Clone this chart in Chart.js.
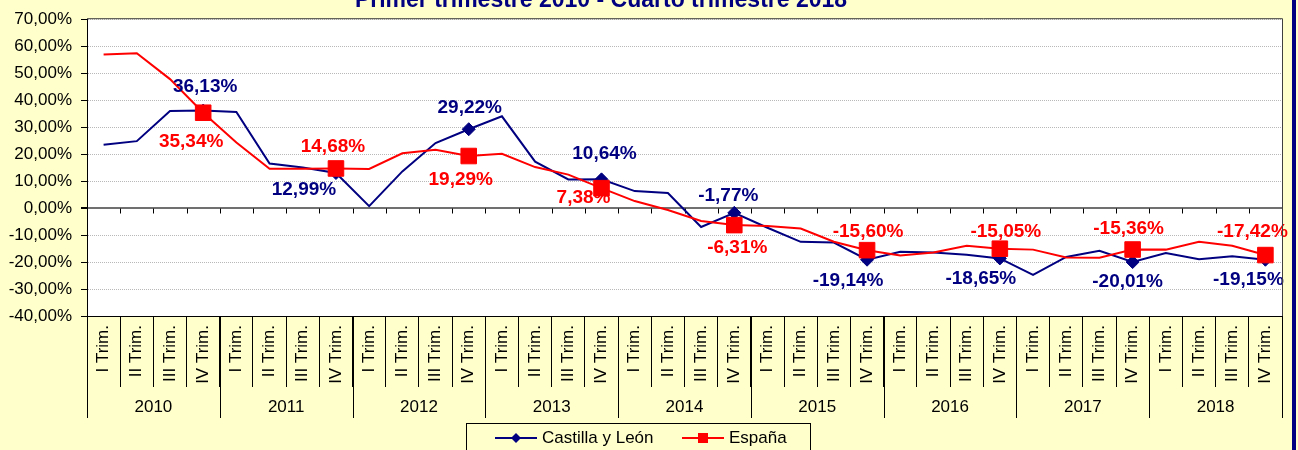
<!DOCTYPE html>
<html>
<head>
<meta charset="utf-8">
<title>Castilla y León - España</title>
<script src="https://cdn.jsdelivr.net/npm/chart.js@4/dist/chart.umd.min.js"></script>
<style>
  html, body { margin: 0; padding: 0; background: #ffffcc; }
  #wrap { width: 1298px; height: 450px; }
</style>
</head>
<body>
<div id="wrap"><canvas id="grafico" width="1298" height="450"></canvas></div>
<script>
// Datos (variación interanual, %)
const anios = ['2010', '2011', '2012', '2013', '2014', '2015', '2016', '2017', '2018'];
const trimestres = ['I Trim.', 'II Trim.', 'III Trim.', 'IV Trim.'];
const castillaLeon = [23.5, 24.8, 36.0, 36.13, 35.6, 16.5, 15.0, 12.99, 0.7, 13.6, 24.1, 29.22,
                      34.0, 17.2, 10.6, 10.64, 6.3, 5.6, -7.0, -1.77, -7.3, -12.5, -12.8, -19.14,
                      -16.2, -16.5, -17.3, -18.65, -24.8, -18.1, -15.8, -20.01, -16.7, -19.0, -17.9, -19.15];
const espana = [56.9, 57.4, 47.8, 35.34, 24.3, 14.6, 14.6, 14.68, 14.5, 20.3, 21.6, 19.29,
                20.1, 15.2, 12.4, 7.38, 2.6, -0.7, -4.8, -6.31, -6.6, -7.6, -12.5, -15.60,
                -17.6, -16.5, -14.0, -15.05, -15.4, -18.3, -18.4, -15.36, -15.4, -12.5, -14.0, -17.42];
const ticksY = [-40, -30, -20, -10, 0, 10, 20, 30, 40, 50, 60, 70];

const titulo = 'Primer trimestre 2010 - Cuarto trimestre 2018';
const categorias = [];
anios.forEach(a => trimestres.forEach(t => categorias.push(t)));

const AZUL = '#000080';
const ROJO = '#ff0000';
const FUENTE = 'Arial, "Liberation Sans", sans-serif';

// formato 12,34%
function pct(v) {
    return v.toFixed(2).replace('.', ',') + '%';
}

// desplazamiento de cada etiqueta respecto a su punto (solo IV Trim.)
const posEtiquetas = [
    [[2, -24], [-32, 17], [1, -21], [3, -26], [-6, -17], [-19, 21], [-19, 20], [-5, 20], [-17, 20]],
    [[-12, 29], [-3, -22], [-8, 24], [-18, 10], [3, 23], [1, -18], [6, -17], [-4, -21], [-13, -23]]
];

const marcoPlugin = {
    id: 'marco',
    beforeDraw(chart) {
        const { ctx, chartArea: a } = chart;
        ctx.save();
        ctx.fillStyle = '#ffffcc';
        ctx.fillRect(0, 0, chart.width, chart.height);
        ctx.fillStyle = '#ffffff';
        ctx.fillRect(a.left, a.top, a.right - a.left, a.bottom - a.top);
        ctx.restore();
    },
    beforeDatasetsDraw(chart) {
        // marcas del eje de categorías sobre la línea del 0
        const { ctx } = chart;
        const x = chart.scales.x, y = chart.scales.y;
        const y0 = Math.round(y.getPixelForValue(0)) + 0.5;
        ctx.save();
        ctx.strokeStyle = '#000';
        ctx.lineWidth = 1;
        ctx.beginPath();
        for (let i = 1; i < categorias.length; i++) {
            const bx = Math.round((x.getPixelForValue(i - 1) + x.getPixelForValue(i)) / 2) + 0.5;
            ctx.moveTo(bx, y0);
            ctx.lineTo(bx, y0 + 5);
        }
        ctx.stroke();
        ctx.restore();
    },
    afterDatasetsDraw(chart) {
        const { ctx } = chart;
        ctx.save();
        ctx.font = 'bold 19px ' + FUENTE;
        ctx.textAlign = 'center';
        ctx.textBaseline = 'middle';
        chart.data.datasets.forEach((ds, d) => {
            const meta = chart.getDatasetMeta(d);
            let k = 0;
            ds.data.forEach((v, i) => {
                if (i % 4 !== 3) return;
                const p = meta.data[i];
                const off = posEtiquetas[d][k++];
                ctx.fillStyle = ds.borderColor;
                ctx.fillText(pct(v), p.x + off[0], p.y + off[1]);
            });
        });
        ctx.restore();
    },
    afterDraw(chart) {
        const { ctx, chartArea: a } = chart;
        const x = chart.scales.x;
        ctx.save();

        // borde superior y derecho del área de trazado
        ctx.strokeStyle = '#404040';
        ctx.lineWidth = 1;
        ctx.beginPath();
        ctx.moveTo(a.left, a.top - 0.5);
        ctx.lineTo(a.right + 0.5, a.top - 0.5);
        ctx.lineTo(a.right + 0.5, a.bottom);
        ctx.stroke();

        // separadores y rótulos de años
        const ancho = (x.getPixelForValue(1) - x.getPixelForValue(0));
        ctx.strokeStyle = '#000';
        ctx.beginPath();
        for (let k = 0; k <= anios.length; k++) {
            const bx = Math.round(x.getPixelForValue(k * 4) - ancho / 2) + 0.5;
            ctx.moveTo(bx, a.bottom);
            ctx.lineTo(bx, a.bottom + 102);
        }
        ctx.stroke();
        ctx.fillStyle = '#000';
        ctx.font = '17px ' + FUENTE;
        ctx.textAlign = 'center';
        ctx.textBaseline = 'middle';
        anios.forEach((an, k) => {
            const cx = (x.getPixelForValue(k * 4) + x.getPixelForValue(k * 4 + 3)) / 2;
            ctx.fillText(an, cx, a.bottom + 91);
        });

        // título (recortado por arriba)
        ctx.fillStyle = AZUL;
        ctx.font = 'bold 23px ' + FUENTE;
        ctx.textBaseline = 'alphabetic';
        ctx.fillText(titulo, 601, 7);

        // leyenda
        const lx = 466, ly = 423, lw = 344, lh = 34;
        ctx.strokeStyle = '#000';
        ctx.lineWidth = 1;
        ctx.strokeRect(lx + 0.5, ly + 0.5, lw, lh);
        const cy = ly + 15;
        const items = [[495, 'rectRot'], [682, 'rect']];
        chart.data.datasets.forEach((ds, d) => {
            const sx = items[d][0];
            ctx.strokeStyle = ds.borderColor;
            ctx.fillStyle = ds.borderColor;
            ctx.lineWidth = 2;
            ctx.beginPath();
            ctx.moveTo(sx, cy);
            ctx.lineTo(sx + 42, cy);
            ctx.stroke();
            ctx.beginPath();
            const mx = sx + 21;
            if (items[d][1] === 'rect') {
                ctx.rect(mx - 5, cy - 5, 10, 10);
            } else {
                ctx.moveTo(mx, cy - 5);
                ctx.lineTo(mx + 5, cy);
                ctx.lineTo(mx, cy + 5);
                ctx.lineTo(mx - 5, cy);
                ctx.closePath();
            }
            ctx.fill();
            ctx.fillStyle = '#000';
            ctx.font = '17px ' + FUENTE;
            ctx.textAlign = 'left';
            ctx.textBaseline = 'middle';
            ctx.fillText(ds.label, sx + 47, cy);
        });

        // franja azul del borde derecho
        ctx.fillStyle = AZUL;
        ctx.fillRect(1292, 0, 4, chart.height);
        ctx.restore();
    }
};

const soloIV = (r) => (c) => (c.dataIndex % 4 === 3 ? r : 0);

new Chart(document.getElementById('grafico'), {
    type: 'line',
    data: {
        labels: categorias,
        datasets: [
            {
                label: 'Castilla y León',
                data: castillaLeon,
                borderColor: AZUL,
                backgroundColor: AZUL,
                borderWidth: 2,
                tension: 0,
                pointStyle: 'rectRot',
                pointRadius: soloIV(6.5),
                pointHoverRadius: soloIV(6.5),
                pointBorderWidth: 1,
                pointBorderColor: AZUL,
                pointBackgroundColor: AZUL,
                order: 1
            },
            {
                label: 'España',
                data: espana,
                borderColor: ROJO,
                backgroundColor: ROJO,
                borderWidth: 2,
                tension: 0,
                pointStyle: 'rect',
                pointRadius: soloIV(11),
                pointHoverRadius: soloIV(11),
                pointBorderWidth: 1,
                pointBorderColor: ROJO,
                pointBackgroundColor: ROJO,
                order: 0
            }
        ]
    },
    options: {
        responsive: false,
        animation: false,
        devicePixelRatio: 1,
        events: [],
        layout: { padding: { top: 17, right: 16, left: 0, bottom: 0 } },
        plugins: {
            legend: { display: false },
            title: { display: false },
            tooltip: { enabled: false }
        },
        scales: {
            x: {
                type: 'category',
                offset: true,
                afterFit: s => { s.height = 134; },
                grid: {
                    display: true,
                    drawOnChartArea: false,
                    drawTicks: true,
                    tickLength: 71,
                    offset: true,
                    color: '#000',
                    tickColor: '#000'
                },
                border: { display: true, color: '#000', width: 1 },
                ticks: {
                    autoSkip: false,
                    minRotation: 90,
                    maxRotation: 90,
                    padding: -62,
                    color: '#000',
                    font: { family: FUENTE, size: 17 }
                }
            },
            y: {
                min: ticksY[0],
                max: ticksY[ticksY.length - 1],
                afterBuildTicks: s => { s.ticks = ticksY.map(v => ({ value: v })); },
                afterFit: s => { s.width = 87; },
                grid: {
                    color: c => (c.tick && c.tick.value === 0 ? '#707070' : '#b8b8b8'),
                    lineWidth: c => (c.tick && c.tick.value === 0 ? 2 : 1),
                    drawTicks: true,
                    tickLength: 6,
                    tickColor: '#000',
                    tickBorderDash: []
                },
                border: {
                    display: true,
                    color: '#000',
                    width: 1,
                    dash: c => (c.type === 'tick' && c.tick && c.tick.value !== 0 ? [1, 1] : [])
                },
                ticks: {
                    padding: 9,
                    color: '#000',
                    font: { family: FUENTE, size: 17 },
                    callback: v => pct(v)
                }
            }
        }
    },
    plugins: [marcoPlugin]
});
</script>
</body>
</html>
